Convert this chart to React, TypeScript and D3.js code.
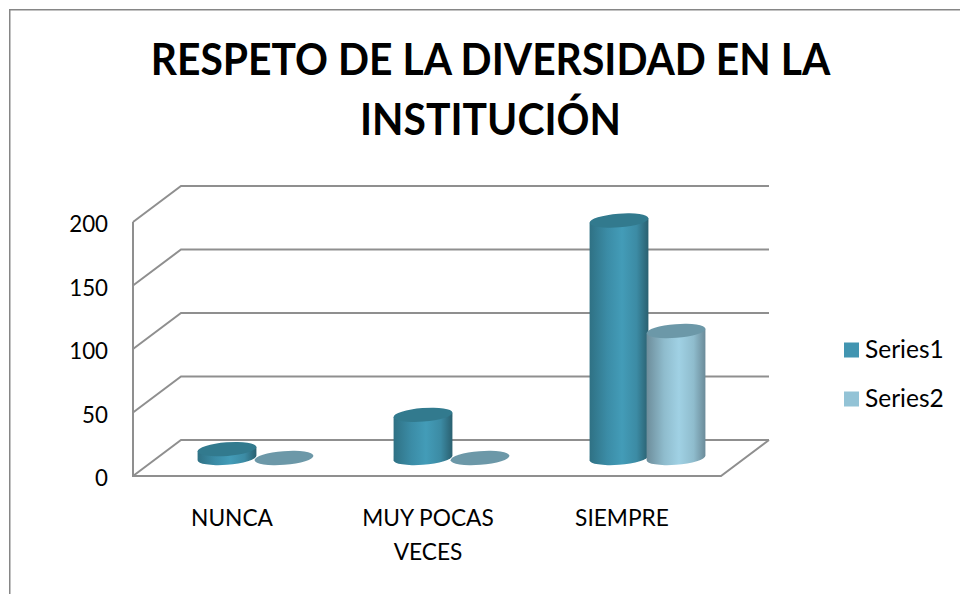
import React from "react";
import * as d3 from "d3";

const categories = ["NUNCA", "MUY POCAS VECES", "SIEMPRE"];
const categoryLines = [["NUNCA"], ["MUY POCAS", "VECES"], ["SIEMPRE"]];
const seriesNames = ["Series1", "Series2"];
const series1 = [7, 34, 187];
const series2 = [0, 0, 100];
const yTicks = [0, 50, 100, 150, 200];
const titleLines = ["RESPETO DE LA DIVERSIDAD EN LA", "INSTITUCIÓN"];

const W = 960, H = 594;
const x0 = 133, x1 = 721, yBase = 476, yTop = 222;
const depthX = 48, depthY = -36;
const GRID = "#8f8f8f";
const FONT = "Lato, Carlito, Calibri, sans-serif";

const x = d3.scaleBand<string>().domain(categories).range([x0, x1]);
const y = d3.scaleLinear().domain([0, 200]).range([yBase, yTop]);
const inner = d3.scaleBand<string>().domain(seriesNames).range([-56.5, 57.5]).paddingInner(0.0);

const rx = 29.5, ry = 6.8, tiltDeg = -4.5;
const a = (tiltDeg * Math.PI) / 180;
const t = Math.atan(-(ry / rx) * Math.tan(a));
const dx = rx * Math.cos(t) * Math.cos(a) - ry * Math.sin(t) * Math.sin(a);
const dy = rx * Math.cos(t) * Math.sin(a) + ry * Math.sin(t) * Math.cos(a);

function Cylinder({ cx, top, base, side, cap }: { cx: number; top: number; base: number; side: string; cap: string }) {
  const body = `M${cx - dx},${top - dy} L${cx - dx},${base - dy} A${rx},${ry} ${tiltDeg} 0 0 ${cx + dx},${base + dy} L${cx + dx},${top + dy} Z`;
  return (
    <g>
      {top < base && <path d={body} fill={side} />}
      <ellipse cx={cx} cy={top} rx={rx} ry={ry} transform={`rotate(${tiltDeg} ${cx} ${top})`} fill={cap} />
    </g>
  );
}

export default function App() {
  const series = [
    { name: seriesNames[0], values: series1, side: "url(#s1)", cap: "#327a8e", key: "#4295b1" },
    { name: seriesNames[1], values: series2, side: "url(#s2)", cap: "#6c98a8", key: "#93c3d6" },
  ];
  const baseY = yBase + depthY / 2;
  const drawOrder = categories.flatMap((c, i) =>
    series.map((s) => ({ c, i, s, v: s.values[i] }))
  );
  return (
    <svg width={W} height={H} viewBox={`0 0 ${W} ${H}`} style={{ position: "absolute", left: 0, top: 0, background: "#fff" }}>
      <defs>
        <linearGradient id="s1" x1="0" x2="1" y1="0" y2="0">
          <stop offset="0" stopColor="#2f7184" />
          <stop offset="0.3" stopColor="#3b8ca6" />
          <stop offset="0.55" stopColor="#439cb8" />
          <stop offset="0.8" stopColor="#3c8ba4" />
          <stop offset="1" stopColor="#2a6070" />
        </linearGradient>
        <linearGradient id="s2" x1="0" x2="1" y1="0" y2="0">
          <stop offset="0" stopColor="#6d8d9b" />
          <stop offset="0.3" stopColor="#8fbccd" />
          <stop offset="0.55" stopColor="#a0d1e4" />
          <stop offset="0.8" stopColor="#8fbccd" />
          <stop offset="1" stopColor="#6b8b99" />
        </linearGradient>
      </defs>

      <path d={`M9.75,594 V9.75 H${W}`} fill="none" stroke="#868686" strokeWidth={1.5} />

      {titleLines.map((l, i) => (
        <text key={l} transform={`translate(490.5,${75 + i * 60}) scale(0.95,1)`} textAnchor="middle" fontFamily={FONT} fontWeight={700} fontSize={43} fill="#000">{l}</text>
      ))}

      <g fill="none" stroke={GRID} strokeWidth={2}>
        {yTicks.map((v) => (
          <path key={v} d={`M${x0},${y(v)} L${x0 + depthX},${y(v) + depthY} H${x1 + depthX}`} />
        ))}
        <path d={`M${x0},${yTop} V${yBase} H${x1} L${x1 + depthX},${yBase + depthY}`} />
      </g>

      {drawOrder.map(({ c, s, v }) => {
        const cx = (x(c) as number) + x.bandwidth() / 2 + depthX / 2 + (inner(s.name) as number) + inner.bandwidth() / 2;
        return <Cylinder key={c + s.name} cx={cx} top={baseY - (yBase - y(v))} base={baseY} side={s.side} cap={s.cap} />;
      })}

      {yTicks.map((v) => (
        <text key={v} transform={`translate(108,${y(v) + 2}) scale(0.93,1)`} dy="0.35em" textAnchor="end" fontFamily={FONT} fontSize={24} fill="#000">{v}</text>
      ))}

      {categories.map((c, i) => (
        <text key={c} textAnchor="middle" fontFamily={FONT} fontSize={22.7} fill="#000">
          {categoryLines[i].map((l, j) => (
            <tspan key={l} x={(x(c) as number) + x.bandwidth() / 2 + (i === 2 ? -1 : 1)} y={526 + j * 34}>{l}</tspan>
          ))}
        </text>
      ))}

      {series.map((s, i) => (
        <g key={s.name}>
          <rect x={844} y={342.5 + i * 49} width={15} height={15} fill={s.key} />
          <text x={865} y={358 + i * 49} fontFamily={FONT} fontSize={24.5} fill="#000">{s.name}</text>
        </g>
      ))}
    </svg>
  );
}
